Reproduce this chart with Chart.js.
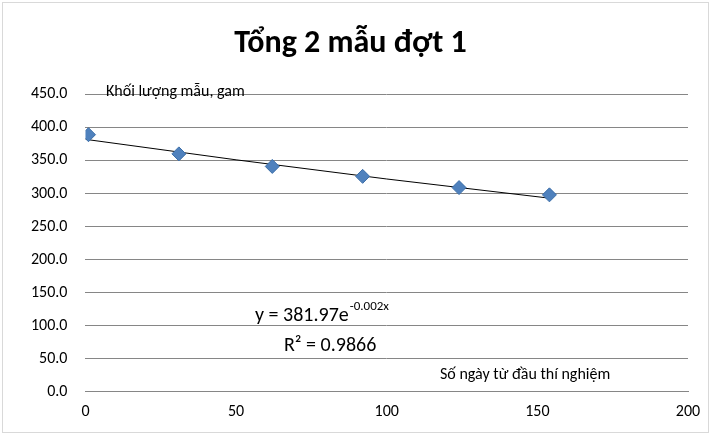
<!DOCTYPE html>
<html>
<head>
<meta charset="utf-8">
<script src="https://cdn.jsdelivr.net/npm/chart.js@4/dist/chart.umd.min.js"></script>
<style>
  body { margin: 0; background: #fff; }
  #wrap { position: absolute; left: 2px; top: 2px; width: 705px; height: 429px; border: 1px solid #d9d9d9; }
</style>
</head>
<body>
<div id="wrap"><canvas id="myChart"></canvas></div>
<script>
const days = [1, 31, 62, 92, 124, 154]
const mass = [389, 360, 341, 326, 309, 298]
const trendX = [0, 50, 100, 154]
const trendY = [382, 351, 322, 293]
const xTicks = [0, 50, 100, 150, 200]

const font = "Calibri, Carlito, 'Liberation Sans', Arial, sans-serif"

const notes = {
  id: 'notes',
  afterDraw(chart) {
    const c = chart.ctx
    c.save()
    c.fillStyle = '#000'
    c.font = '16px ' + font
    c.fillText('Khối lượng mẫu, gam', 103, 93)
    c.fillText('Số ngày từ đầu thí nghiệm', 437, 376)
    c.font = '20px ' + font
    c.fillText('y = 381.97e', 252, 318)
    const w = c.measureText('y = 381.97e').width
    c.font = '13px ' + font
    c.fillText('-0.002x', 252 + w + 1, 307)
    c.font = '20px ' + font
    c.fillText('R² = 0.9866', 281, 348)
    c.restore()
  }
}

new Chart(document.getElementById('myChart'), {
  type: 'scatter',
  data: {
    datasets: [{
      data: days.map((d, i) => ({x: d, y: mass[i]})),
      backgroundColor: '#4F81BD',
      borderColor: '#3c6ea8',
      borderWidth: 1,
      pointStyle: 'rectRot',
      pointRadius: 7,
      order: 1
    }, {
      data: trendX.map((d, i) => ({x: d, y: trendY[i]})),
      showLine: true,
      borderColor: '#000',
      borderWidth: 1,
      pointRadius: 0,
      order: 2
    }]
  },
  options: {
    responsive: true,
    maintainAspectRatio: false,
    animation: false,
    layout: { padding: { left: 10, right: 20, top: 0, bottom: 7 } },
    plugins: {
      legend: { display: false },
      tooltip: { enabled: false },
      title: {
        display: true,
        text: 'Tổng 2 mẫu đợt 1',
        color: '#000',
        font: { family: font, size: 32, weight: 'bold' },
        padding: { top: 22, bottom: 31 }
      }
    },
    scales: {
      x: {
        type: 'linear', min: 0, max: 200,
        afterBuildTicks: a => { a.ticks = xTicks.map(v => ({value: v})) },
        grid: { display: false, drawTicks: true },
        border: { color: '#868686' },
        ticks: { color: '#000', font: { family: font, size: 16 } }
      },
      y: {
        min: 0, max: 450,
        ticks: { stepSize: 50, padding: 18, color: '#000', font: { family: font, size: 16 }, callback: v => v.toFixed(1) },
        grid: { color: '#868686', drawTicks: false },
        border: { display: false }
      }
    }
  },
  plugins: [notes]
})
</script>
</body>
</html>
